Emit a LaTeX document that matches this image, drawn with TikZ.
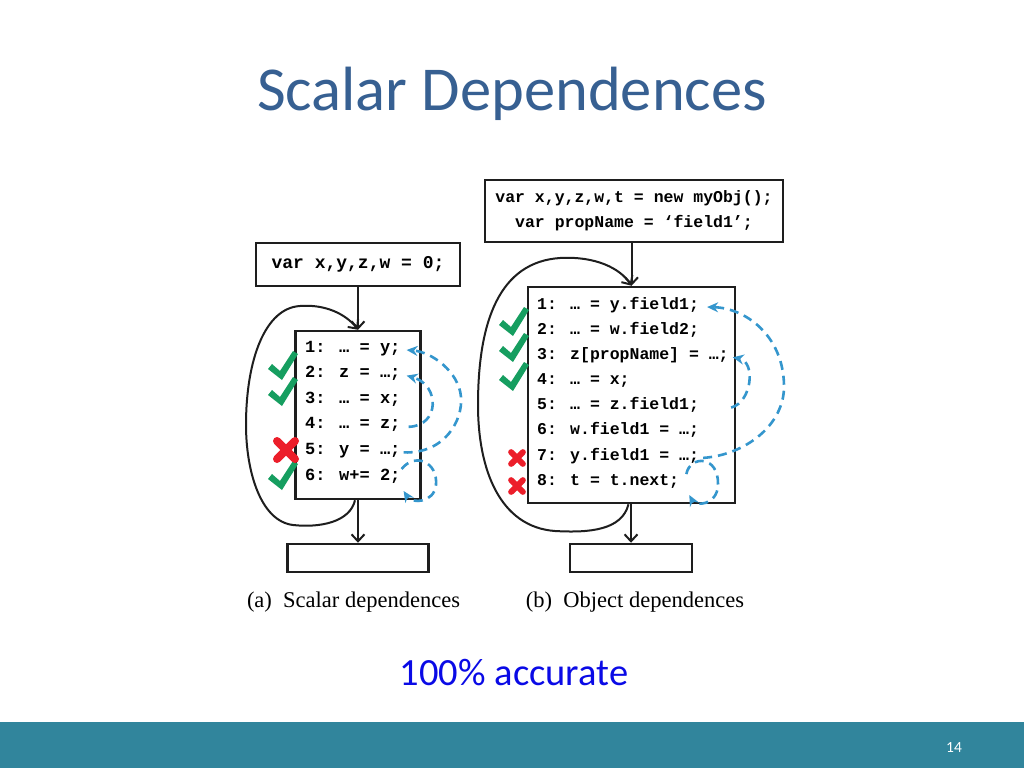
\documentclass[tikz,border=0pt]{standalone}
\usepackage{fontspec}
\setmainfont{Carlito}
\newfontfamily\codefont{Liberation Mono}
\newfontfamily\capfont{Liberation Serif}
\usetikzlibrary{arrows.meta}
\definecolor{titleblue}{RGB}{55,96,146}
\definecolor{accblue}{RGB}{10,10,230}
\definecolor{barteal}{RGB}{49,133,156}
\definecolor{boxline}{RGB}{30,30,30}
\definecolor{depblue}{RGB}{52,150,205}
\definecolor{okgreen}{RGB}{22,158,96}
\definecolor{badred}{RGB}{236,30,42}

\tikzset{
  codebox/.style={draw=boxline, line width=2.5pt, inner sep=0pt},
  codeline/.style={anchor=west, inner sep=0pt, text height=0.62em, text depth=0.2em,
    font=\codefont\bfseries\fontsize{#1}{25}\selectfont},
  codeline/.default=16.5,
  flow/.style={draw=boxline, line width=2pt, -{Straight Barb[length=7pt,width=13pt]}},
  dep/.style={draw=depblue, line width=2.6pt, dash pattern=on 9pt off 6pt,
    -{Stealth[length=11pt,width=10pt]}},
  okmark/.pic={\fill[okgreen] (-12,-2) -- (-4,5) -- (9,-15) -- (14,-12) -- (-2,14) -- (-16,3) -- cycle;},
  badmark/.pic={\draw[badred, line cap=round] (-9,-9) -- (9,9) (-9,9) -- (9,-9);}
}

\begin{document}
\begin{tikzpicture}[x=1pt, y=-1pt]

% 1. SLIDE BACKGROUND & FOOTER
\useasboundingbox (0,0) rectangle (1024,768);
\fill[white] (0,0) rectangle (1024,768);
\fill[barteal] (0,722) rectangle (1024,768);
\node[anchor=base, text=white, font=\fontsize{15.5}{18}\selectfont] (pagenum) at (954,752) {14};

% Title
\node[anchor=base, text=titleblue, font=\fontsize{62.5}{75}\selectfont] (title) at (512,110) {Scalar Dependences};

% 2. (A) SCALAR DEPENDENCES
\node[codebox, minimum width=204pt, minimum height=43pt,
  font=\codefont\bfseries\fontsize{18}{25}\selectfont] (atop) at (358,264.5) {var x,y,z,w = 0;};
\node[codebox, minimum width=125pt, minimum height=168pt] (acode) at (358,415) {};
\node[codebox, minimum width=141pt, minimum height=28pt] (abot) at (358,558) {};

% Statements
\foreach \txt [count=\i] in {{1: … = y;}, {2: z = …;}, {3: … = x;}, {4: … = z;}, {5: y = …;}, {6: w+= 2;}}
  \node[codeline=17] (a\i) at (305,{350+25.6*(\i-1)}) {\txt};

% Control flow
\draw[flow] (atop) -- (acode);
\draw[flow] (acode) -- (abot);
\draw[flow] ([xshift=-3pt]acode.south) .. controls (350,522) and (320,528) .. (293,525)
  .. controls (260,521) and (246,470) .. (246,425)
  .. controls (246,360) and (265,308) .. (300,306)
  .. controls (325,304) and (346,314) .. (acode.north);

% Dependences
\draw[dep] ([xshift=3pt]a5.east) .. controls (445,454) and (463,420) .. (461,397)
  .. controls (459,372) and (432,352) .. ([xshift=6pt]a1.east);
\draw[dep] ([xshift=8pt]a4.east) .. controls (440,426) and (440,385) .. ([xshift=6pt]a2.east);
\draw[dep] ([shift={(1,-9)}]a6.east) .. controls (415,452) and (438,462) .. (436,485)
  .. controls (434,503) and (412,504) .. ([shift={(3,13)}]a6.east);

% Marks
\pic at (284,366) {okmark};
\pic at (284,392) {okmark};
\pic at (284,476) {okmark};
\pic[line width=8pt] at (286,450) {badmark};

\node[anchor=base, font=\capfont\fontsize{22.5}{27}\selectfont] (acap) at (353.5,607) {(a)\enspace Scalar dependences};

% 3. (B) OBJECT DEPENDENCES
\node[codebox, minimum width=298pt, minimum height=62pt, align=center,
  font=\codefont\bfseries\fontsize{16.5}{25.3}\selectfont] (btop) at (634,211) {var x,y,z,w,t = new myObj();\\var propName = ‘field1’;};
\node[codebox, minimum width=207pt, minimum height=216pt] (bcode) at (631.5,395) {};
\node[codebox, minimum width=122pt, minimum height=28pt] (bbot) at (631,558) {};

% Statements
\foreach \txt [count=\i] in {{1: … = y.field1;}, {2: … = w.field2;}, {3: z[propName] = …;}, {4: … = x;},
  {5: … = z.field1;}, {6: w.field1 = …;}, {7: y.field1 = …;}, {8: t = t.next;}}
  \node[codeline] (b\i) at (537,{307+25.15*(\i-1)}) {\txt};

% Control flow
\draw[flow] (bcode.north |- btop.south) -- (bcode.north);
\draw[flow] (bcode.south -| bbot.north) -- (bbot.north);
\draw[flow] ([xshift=-3pt]bcode.south) .. controls (622,530) and (590,533) .. (555,531)
  .. controls (500,527) and (478,470) .. (478,405)
  .. controls (478,320) and (500,262) .. (560,258)
  .. controls (595,256) and (620,268) .. (bcode.north);

% Dependences
\draw[dep] ([xshift=4pt]b7.east) .. controls (745,455) and (785,425) .. (784,385)
  .. controls (783,335) and (745,308) .. ([xshift=8pt]b1.east);
\draw[dep] ([xshift=32pt]b5.east) .. controls (752,402) and (756,362) .. ([xshift=4pt]b3.east);
\draw[dep] ([shift={(7,-9)}]b8.east) .. controls (690,455) and (719,455) .. (718,485)
  .. controls (717,506) and (695,506) .. ([shift={(10,12)}]b8.east);

% Marks
\pic at (515,322) {okmark};
\pic at (515,348) {okmark};
\pic at (515,377) {okmark};
\pic[scale=0.65, line width=6pt] at (517,458) {badmark};
\pic[scale=0.65, line width=6pt] at (517,486) {badmark};

\node[anchor=base, font=\capfont\fontsize{22.5}{27}\selectfont] (bcap) at (635,607) {(b)\enspace Object dependences};

% 4. NOTE
\node[anchor=base, text=accblue, font=\fontsize{38.5}{46}\selectfont] (acc) at (514,685) {100\% accurate};

\end{tikzpicture}
\end{document}
